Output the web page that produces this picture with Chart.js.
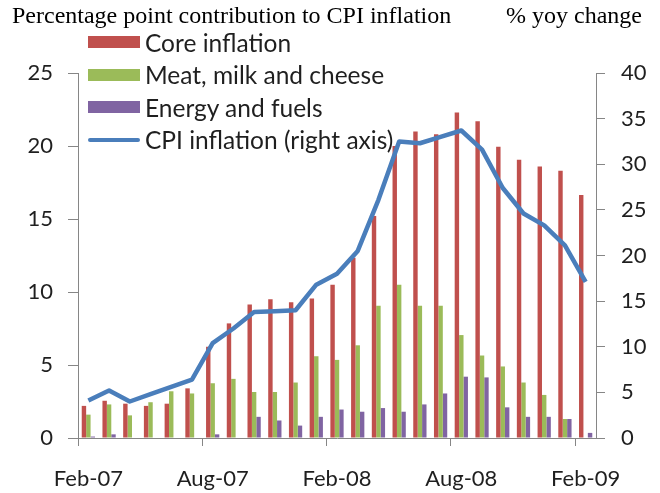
<!DOCTYPE html>
<html>
<head>
<meta charset="utf-8">
<script src="https://cdn.jsdelivr.net/npm/chart.js@4/dist/chart.umd.min.js"></script>
<style>
  html, body { margin: 0; padding: 0; background: #fff; }
  #wrap { position: relative; width: 660px; height: 493px; }
  #chart { position: absolute; left: 0; top: 0; }
  .hdr { position: absolute; top: 3px; font-family: "Liberation Serif", serif; font-size: 24px; line-height: 24px; color: #000; white-space: nowrap; }
  #legend { position: absolute; left: 88px; top: 26px; font-family: Lato, sans-serif; font-size: 24.5px; color: #1f1f1f; }
  .item { display: flex; align-items: center; height: 32.5px; white-space: nowrap; }
  .sw { width: 52px; margin-right: 5px; }
</style>
</head>
<body>
<div id="wrap">
  <canvas id="chart" width="660" height="493"></canvas>
  <div class="hdr" style="left:12px">Percentage point contribution to CPI inflation</div>
  <div class="hdr" style="right:18px">% yoy change</div>
  <div id="legend"></div>
</div>
<script>
const months = ["Feb-07", "Mar-07", "Apr-07", "May-07", "Jun-07", "Jul-07", "Aug-07", "Sep-07", "Oct-07",
  "Nov-07", "Dec-07", "Jan-08", "Feb-08", "Mar-08", "Apr-08", "May-08", "Jun-08", "Jul-08", "Aug-08",
  "Sep-08", "Oct-08", "Nov-08", "Dec-08", "Jan-09", "Feb-09"];

// percentage point contributions (left axis)
const core = [2.2, 2.55, 2.35, 2.2, 2.35, 3.4, 6.25, 7.85, 9.15, 9.5, 9.3, 9.55, 10.5,
  12.35, 15.2, 20.0, 21.0, 20.8, 22.3, 21.7, 19.95, 19.05, 18.6, 18.3, 16.65];
const meat = [1.6, 2.3, 1.55, 2.45, 3.2, 3.05, 3.75, 4.05, 3.15, 3.15, 3.8, 5.6, 5.35,
  6.35, 9.05, 10.5, 9.05, 9.05, 7.05, 5.65, 4.9, 3.8, 2.95, 1.3, 0];
const energy = [0.1, 0.25, 0, 0, 0, 0, 0.25, 0, 1.45, 1.2, 0.85, 1.45, 1.95,
  1.8, 2.05, 1.8, 2.3, 3.05, 4.2, 4.15, 2.1, 1.45, 1.45, 1.3, 0.35];

// % yoy (right axis)
const cpi = [4.1, 5.2, 4.0, 4.8, 5.6, 6.4, 10.4, 12.0, 13.8, 13.9, 14.0, 16.8, 18.0,
  20.5, 26.1, 32.5, 32.3, 33.0, 33.7, 31.6, 27.4, 24.6, 23.3, 21.1, 17.1];

const axisCol = "#868686";
const tickFont = { family: "Lato", size: 22 };

const chart = new Chart(document.getElementById("chart"), {
  type: "bar",
  data: {
    labels: months,
    datasets: [
      { label: "Core inflation", data: core, backgroundColor: "#C0504D", order: 1 },
      { label: "Meat, milk and cheese", data: meat, backgroundColor: "#9BBB59", order: 1 },
      { label: "Energy and fuels", data: energy, backgroundColor: "#8064A2", order: 1 },
      {
        type: "line",
        label: "CPI inflation (right axis)",
        data: cpi,
        yAxisID: "y1",
        borderColor: "#4A7EBB",
        borderWidth: 4.5,
        pointRadius: 0,
        tension: 0,
        borderJoinStyle: "round",
        order: 0,
      },
    ],
  },
  options: {
    responsive: false,
    animation: false,
    layout: { padding: { top: 73, left: 0, right: 0, bottom: 0 } },
    datasets: {
      bar: { barPercentage: 1, categoryPercentage: 0.64 },
    },
    plugins: {
      legend: { display: false },
      tooltip: { enabled: false },
    },
    scales: {
      x: {
        offset: true,
        grid: {
          offset: true,
          drawOnChartArea: false,
          tickLength: 8,
          tickColor: (c) => (c.index % 6 === 0 ? axisCol : "rgba(0,0,0,0)"),
        },
        border: { color: axisCol },
        ticks: {
          autoSkip: false,
          maxRotation: 0,
          padding: 20,
          font: tickFont,
          color: "#1f1f1f",
          callback: function (v, i) {
            return i % 6 === 0 ? this.getLabelForValue(v) : "";
          },
        },
        afterFit: (s) => { s.height = 55; },
      },
      y: {
        position: "left",
        min: 0,
        max: 25,
        ticks: { stepSize: 5, padding: 15, font: tickFont, color: "#1f1f1f" },
        grid: { drawOnChartArea: false, tickLength: 10, color: axisCol },
        border: { color: axisCol },
        afterFit: (s) => { s.width = 78; },
      },
      y1: {
        position: "right",
        min: 0,
        max: 40,
        ticks: { stepSize: 5, padding: 16, font: tickFont, color: "#1f1f1f" },
        grid: { drawOnChartArea: false, tickLength: 9, color: axisCol },
        border: { color: axisCol },
        afterFit: (s) => { s.width = 64; },
      },
    },
  },
});

// legend built from the chart's datasets
const legend = document.getElementById("legend");
chart.data.datasets.forEach((ds) => {
  const item = document.createElement("div");
  item.className = "item";
  const sw = document.createElement("span");
  sw.className = "sw";
  if (ds.type === "line") {
    sw.style.height = "4.5px";
    sw.style.borderRadius = "2px";
    sw.style.background = ds.borderColor;
  } else {
    sw.style.height = "12px";
    sw.style.background = ds.backgroundColor;
  }
  item.appendChild(sw);
  item.appendChild(document.createTextNode(ds.label));
  legend.appendChild(item);
});
</script>
</body>
</html>
